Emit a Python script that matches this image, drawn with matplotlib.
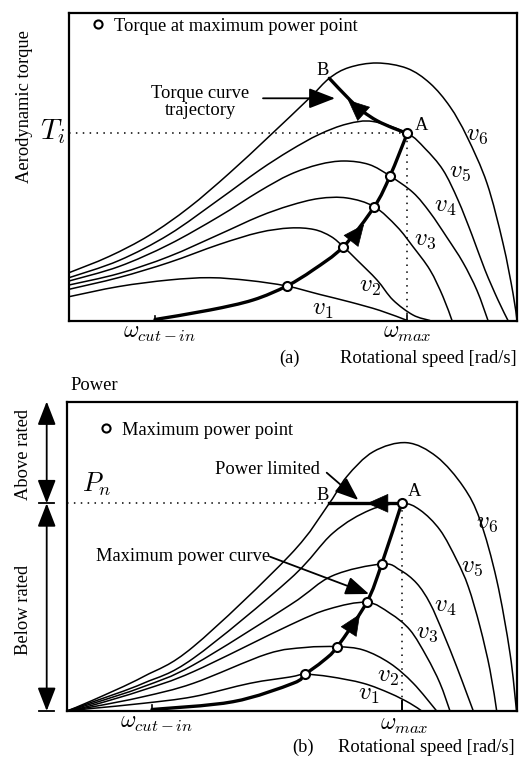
import numpy as np
import matplotlib
matplotlib.use("Agg")
import matplotlib.pyplot as plt
from matplotlib.path import Path
from matplotlib.patches import PathPatch

plt.rcParams['font.family'] = ['Liberation Serif', 'DejaVu Serif']
plt.rcParams['mathtext.fontset'] = 'cm'

# ---- (a) aerodynamic torque vs rotational speed (arbitrary units)
a_w_cut, a_w_max = 86, 338.3
a_v1_w = [0, 50, 100, 141, 180, 217.7, 251, 281, 311, 338.3]
a_v1_T = [23.8, 34, 40.5, 42.8, 40, 34.5, 26, 18.5, 10, 0]
a_v2_w = [0, 50, 100, 150, 190, 221, 245, 262, 274.3, 288, 308, 324, 344, 361]
a_v2_T = [31.2, 43, 58, 76, 88, 92.5, 91, 84, 73.8, 60.5, 40.5, 20.5, 5.5, 0]
a_v3_w = [0, 50, 100, 150, 190, 221, 250, 278, 305.3, 328, 344, 361, 374, 383]
a_v3_T = [35.5, 47, 64, 86, 104, 115, 122, 122.5, 113.8, 93.8, 73.8, 50.5, 23.8, 0]
a_v4_w = [0, 50, 100, 150, 190, 221, 250, 275, 300, 321, 344, 361, 378, 394, 408, 419]
a_v4_T = [39.5, 54, 76, 104, 129, 146, 156, 159.5, 156, 144.5, 128, 108, 83, 58, 30, 0]
a_v5_w = [0, 50, 100, 150, 190, 221, 250, 278, 304, 338.3, 356, 374, 389, 403, 416, 429, 439]
a_v5_T = [42.8, 60, 86, 121, 150, 170, 186, 196.5, 199, 187.2, 172, 150.5, 120.5, 85.5, 50.5, 20.5, 0]
a_v6_w = [0, 40, 80, 120, 160, 200, 240, 260.3, 280, 308, 338, 361, 381, 398, 418, 434, 444, 448]
a_v6_T = [47.8, 64, 85, 113, 147, 184, 222, 242.2, 253, 257.5, 252.2, 237.2, 213.8, 183.8, 137.2, 77.2, 27.2, 0]
a_mpp_w = [217.7, 274.3, 305.3, 321, 338.3]
a_mpp_T = [34.5, 73.8, 113.8, 144.5, 187.2]
a_traj_w = [86, 141, 184, 217.7, 244, 274.3, 305.3, 321, 338.3]
a_traj_T = [1, 10.5, 20.5, 34.5, 50.5, 73.8, 113.8, 144.5, 187.2]
a_ab_w = [338.3, 324, 308, 294, 281, 260.3]
a_ab_T = [187.2, 192.5, 199.8, 209, 220.5, 242.2]

# ---- (b) power vs rotational speed
b_w_cut, b_w_max = 85, 334.7
b_v1_w = [0, 26.3, 76.3, 126.3, 183, 223, 238, 263, 296.3, 323, 343, 354.7]
b_v1_P = [0, 2.7, 7.7, 14.3, 27.7, 34, 36.7, 34.3, 27.7, 17.7, 7.7, 0]
b_v2_w = [0, 26.3, 76.3, 126.3, 200, 238, 270.3, 296.3, 323, 346.3, 369.7]
b_v2_P = [0, 4.3, 14.3, 27.7, 57, 63.5, 64.3, 61, 47.7, 27.7, 0]
b_v3_w = [0, 26.3, 76.3, 126.3, 223, 262, 299.7, 323, 343, 359.7, 373, 383]
b_v3_P = [0, 6, 21, 39.3, 86, 102, 108.7, 97.7, 81, 54.3, 27.7, 0]
b_v4_w = [0, 26.3, 76.3, 126.3, 223, 265, 314.7, 333, 349.7, 363, 376.3, 389.7, 399.7, 406.3]
b_v4_P = [0, 7.7, 24.3, 46, 106, 135, 147, 141, 127.7, 107.7, 77.7, 44.3, 17.7, 0]
b_v5_w = [0, 26.3, 76.3, 126.3, 223, 266, 303, 334.7, 353, 373, 389.7, 401.3, 413, 423, 429.7]
b_v5_P = [0, 9.3, 27.7, 52.7, 132, 178, 201, 207.7, 201, 181, 151, 124.3, 84.3, 41, 0]
b_v6_w = [0, 26.3, 76.3, 126.3, 223, 262.3, 279.7, 306.3, 339.7, 369.7, 396.3, 413, 429.7, 443, 449.5]
b_v6_P = [0, 11, 34.3, 64.3, 156, 207.7, 234.3, 259.3, 268.3, 254.3, 224.3, 191, 131, 57.7, 0]
b_mpp_w = [238, 270.3, 299.7, 314.7, 334.7]
b_mpp_P = [36.7, 64.3, 108.7, 147, 207.7]
b_traj_w = [85, 166, 226, 238, 256, 270.3, 299.7, 314.7, 334.7]
b_traj_P = [1.5, 9.3, 27.7, 36.7, 50, 64.3, 108.7, 147, 207.7]
b_ab_w = [334.7, 262.3]
b_ab_P = [207.7, 207.7]

LW = 1.1
BOLD = 2.4
FS = 13.3


def smooth(ax, xs, ys, lw=LW):
    pts = np.column_stack([xs, ys]).astype(float)
    verts = [pts[0]]
    codes = [Path.MOVETO]
    n = len(pts)
    for i in range(n - 1):
        p0 = pts[i - 1] if i > 0 else pts[i]
        p1, p2 = pts[i], pts[i + 1]
        p3 = pts[i + 2] if i + 2 < n else pts[i + 1]
        verts += [p1 + (p2 - p0) / 6, p2 - (p3 - p1) / 6, p2]
        codes += [Path.CURVE4] * 3
    ax.add_patch(PathPatch(Path(verts, codes), fill=False, lw=lw,
                           edgecolor='black', capstyle='round', joinstyle='round'))


def head(ax, tail, tip, size=16):
    ax.annotate('', xy=tip, xytext=tail,
                arrowprops=dict(arrowstyle='-|>,head_length=0.9,head_width=0.4',
                                color='black', lw=0.5, shrinkA=0, shrinkB=0,
                                mutation_scale=size))


def arrow(ax, tail, tip, size=16, lw=1.3):
    ax.annotate('', xy=tip, xytext=tail,
                arrowprops=dict(arrowstyle='-|>,head_length=0.9,head_width=0.35',
                                color='black', lw=lw, shrinkA=0, shrinkB=0,
                                mutation_scale=size))


def frame(ax, xmax, ymax):
    ax.set_xlim(0, xmax)
    ax.set_ylim(0, ymax)
    ax.set_xticks([])
    ax.set_yticks([])
    for s in ax.spines.values():
        s.set_linewidth(1.6)


fig = plt.figure(figsize=(5.28, 7.58), dpi=100)
ax1 = fig.add_axes([69 / 528, (758 - 320.5) / 758, 448 / 528, 307.5 / 758])
ax2 = fig.add_axes([67 / 528, (758 - 711) / 758, 449.5 / 528, 309.5 / 758])

# ================= (a)
frame(ax1, 448, 307.5)
for w, T in [(a_v1_w, a_v1_T), (a_v2_w, a_v2_T), (a_v3_w, a_v3_T),
             (a_v4_w, a_v4_T), (a_v5_w, a_v5_T), (a_v6_w, a_v6_T)]:
    smooth(ax1, w, T)
smooth(ax1, a_traj_w, a_traj_T, lw=BOLD)
smooth(ax1, a_ab_w, a_ab_T, lw=BOLD)
ax1.plot([0, a_mpp_w[-1]], [a_mpp_T[-1]] * 2, color='black', lw=1.1, ls=(0, (1, 3.5)))
ax1.plot([a_w_max] * 2, [0, a_mpp_T[-1]], color='black', lw=1.1, ls=(0, (1, 3.5)))
ax1.plot([a_w_cut] * 2, [0, 5], color='black', lw=1.2)
ax1.plot([a_w_max] * 2, [0, 6], color='black', lw=1.2)
ax1.plot(a_mpp_w, a_mpp_T, 'o', ms=6.5, mfc='white', mec='black', mew=1.5,
         ls='none', label='Torque at maximum power point', zorder=5)
ax1.legend(loc='upper left', bbox_to_anchor=(0.048, 0.985), frameon=False,
           fontsize=FS, handlelength=0.8, handletextpad=0.45, borderpad=0,
           borderaxespad=0, markerscale=0.9)
head(ax1, (284, 82), (295, 96))
head(ax1, (292, 209), (279, 220.5))
arrow(ax1, (194, 222.2), (266, 222.2), size=18)
ax1.text(131, 218.5, 'Torque curve\ntrajectory', fontsize=FS, ha='center',
         va='center', linespacing=1.05)
ax1.text(253.7, 250.5, 'B', fontsize=FS, ha='center', va='center')
ax1.text(352.7, 195.5, 'A', fontsize=FS, ha='center', va='center')
for i, (x, y) in enumerate([(253.7, 10.5), (301, 33.8), (356, 80.5),
                            (376, 113.8), (391, 148.8), (407.7, 185.5)]):
    ax1.text(x, y, r'$v_%d$' % (i + 1), fontsize=18, ha='center', va='center')
ax1.text(-4, 181, r'$T_i$', fontsize=21, ha='right', va='baseline')
ax1.text(-44, 214, 'Aerodynamic torque', fontsize=FS, rotation=90,
         ha='center', va='center')
ax1.text(a_w_cut + 5, -13, r'$\omega_{cut-in}$', fontsize=17, ha='center', va='center')
ax1.text(a_w_max, -13, r'$\omega_{max}$', fontsize=17, ha='center', va='center')
ax1.text(220, -38, '(a)', fontsize=FS, ha='center', va='center')
ax1.text(448, -38, 'Rotational speed [rad/s]', fontsize=FS, ha='right', va='center')

# ================= (b)
frame(ax2, 449.5, 309.5)
for w, P in [(b_v1_w, b_v1_P), (b_v2_w, b_v2_P), (b_v3_w, b_v3_P),
             (b_v4_w, b_v4_P), (b_v5_w, b_v5_P), (b_v6_w, b_v6_P)]:
    smooth(ax2, w, P)
smooth(ax2, b_traj_w, b_traj_P, lw=BOLD)
ax2.plot(b_ab_w, b_ab_P, color='black', lw=BOLD)
ax2.plot([0, b_mpp_w[-1]], [b_mpp_P[-1]] * 2, color='black', lw=1.1, ls=(0, (1, 3.5)))
ax2.plot([b_w_max] * 2, [0, b_mpp_P[-1]], color='black', lw=1.1, ls=(0, (1, 3.5)))
ax2.plot([b_w_cut] * 2, [0, 6], color='black', lw=1.2)
ax2.plot([b_w_max] * 2, [0, 10], color='black', lw=1.4)
ax2.plot(b_mpp_w, b_mpp_P, 'o', ms=6.5, mfc='white', mec='black', mew=1.5,
         ls='none', label='Maximum power point', zorder=5)
ax2.legend(loc='upper left', bbox_to_anchor=(0.07, 0.935), frameon=False,
           fontsize=FS, handlelength=0.8, handletextpad=0.45, borderpad=0,
           borderaxespad=0, markerscale=0.9)
head(ax2, (284, 83), (293, 97))
head(ax2, (318, 207.7), (300, 207.7))
arrow(ax2, (259.7, 238.3), (291.3, 211))
arrow(ax2, (203, 154.3), (302, 117))
ax2.text(253, 241, 'Power limited', fontsize=FS, ha='right', va='center')
ax2.text(203, 154.3, 'Maximum power curve', fontsize=FS, ha='right', va='center')
ax2.text(255.7, 216, 'B', fontsize=FS, ha='center', va='center')
ax2.text(348, 219.3, 'A', fontsize=FS, ha='center', va='center')
for i, (x, y) in enumerate([(301.3, 16), (321.3, 34.3), (359.7, 77.7),
                            (378, 104.3), (404.7, 144.3), (419.7, 187.7)]):
    ax2.text(x, y, r'$v_%d$' % (i + 1), fontsize=18, ha='center', va='center')
ax2.text(44.7, 219.3, r'$P_n$', fontsize=19, ha='right', va='baseline')
ax2.text(3, 326, 'Power', fontsize=FS, ha='left', va='center')
ax2.text(b_w_cut + 5, -12.3, r'$\omega_{cut-in}$', fontsize=17, ha='center', va='center')
ax2.text(b_w_max + 3, -15, r'$\omega_{max}$', fontsize=17, ha='center', va='center')
ax2.text(236.3, -36.5, '(b)', fontsize=FS, ha='center', va='center')
ax2.text(448, -36.5, 'Rotational speed [rad/s]', fontsize=FS, ha='right', va='center')

# rated / below-rated range arrows on the left
for lo, hi in [(b_ab_P[0], 309.5), (0, b_ab_P[0])]:
    ax2.annotate('', xy=(-20.3, hi), xytext=(-20.3, lo), annotation_clip=False,
                 arrowprops=dict(arrowstyle='<|-|>,head_length=0.9,head_width=0.35',
                                 color='black', lw=1.3, shrinkA=0, shrinkB=0,
                                 mutation_scale=16))
for y in [0, b_ab_P[0]]:
    ax2.plot([-28, -13], [y, y], color='black', lw=1.3, clip_on=False)
ax2.text(-43.7, 256, 'Above rated', fontsize=FS, rotation=90, ha='center', va='center')
ax2.text(-43.7, 101, 'Below rated', fontsize=FS, rotation=90, ha='center', va='center')

fig.savefig('out.png', dpi=100)
